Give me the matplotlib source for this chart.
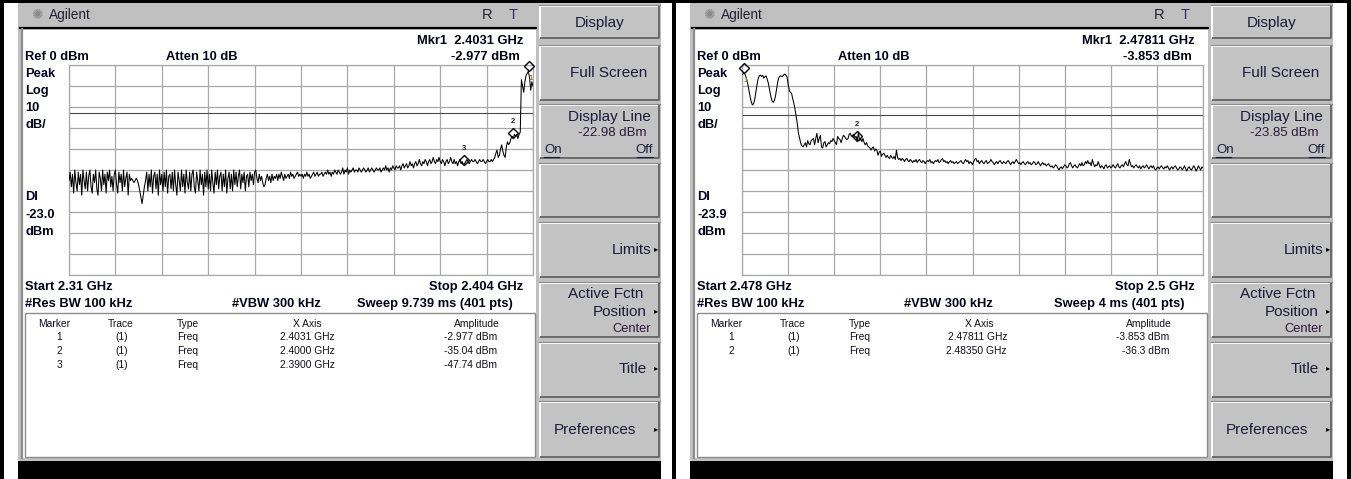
import numpy as np
import matplotlib
matplotlib.use('Agg')
import matplotlib.pyplot as plt
from matplotlib.patches import Rectangle
from matplotlib import transforms

plt.rcParams['font.family'] = ['Liberation Sans', 'DejaVu Sans']

W, H = 1351, 479

# ---------------- data ----------------
left_start_ghz, left_stop_ghz = 2.31, 2.404
right_start_ghz, right_stop_ghz = 2.478, 2.5
ref_level_dbm = 0.0
db_per_div = 10.0
left_display_line_dbm = -22.98
right_display_line_dbm = -23.85

left_trace_dbm = np.array("""
-55 -51 -58 -52 -61 -50 -56 -60 -51 -57 -52 -62 -50 -55 -59 -51 -60 -53 -50 -58
-61 -52 -56 -50 -59 -62 -51 -54 -60 -50 -57 -52 -61 -51 -55 -50 -58 -53 -60 -52
-50 -57 -61 -51 -56 -52 -60 -50 -58 -54 -51 -62 -52 -55 -54 -55 -56 -55 -54 -55
-57 -60 -63 -66 -62 -58 -55 -51 -60 -52 -58 -50 -61 -53 -51 -59 -52 -62 -50 -57
-52 -60 -51 -58 -50 -61 -53 -52 -59 -51 -60 -50 -57 -62 -51 -55 -60 -50 -58 -52
-61 -50 -56 -59 -51 -60 -52 -50 -58 -61 -51 -55 -60 -50 -57 -52 -62 -51 -58 -50
-59 -52 -60 -50 -56 -61 -51 -57 -50 -59 -53 -51 -60 -52 -58 -50 -61 -54 -51 -59
-52 -60 -50 -57 -51 -58 -53 -50 -59 -52 -56 -51 -60 -53 -52 -58 -51 -55 -52 -57
-51 -50 -54 -56 -52 -55 -53 -56 -58 -57 -54 -52 -55 -53 -56 -52 -55 -53 -54 -52
-55 -52 -54 -51 -53 -55 -52 -54 -53 -52 -54 -51 -53 -52 -54 -53 -52 -51 -53 -52
-53 -52 -54 -52 -53 -51 -53 -52 -54 -53 -52 -51 -53 -52 -51 -53 -52 -52 -51 -53
-52 -51 -52 -50 -52 -51 -53 -51 -52 -50 -51 -52 -50 -51 -52
-51 -49 -52 -50 -51 -49 -52 -50 -51 -50 -49 -51 -50 -50 -51 -49 -50 -51 -50 -49
-50 -51 -50 -49 -51 -50 -49 -50 -51 -50 -49 -50 -50 -49 -51 -50 -49 -50 -48 -50
-49 -51 -49 -50 -48 -49 -50 -48 -49
-49 -48 -50 -48 -47 -49 -48 -47 -49 -48 -46 -48 -47 -49 -47 -46 -48 -47 -45 -47
-48 -46 -47 -45 -46 -48 -46 -45 -47 -46 -44 -46 -47 -45 -46 -44 -46
-47 -45 -46 -48 -46 -45 -47 -46 -44 -46 -47 -45 -47 -46 -48 -46 -45 -47 -46 -47.7
-47 -46 -45 -46 -47 -46 -45 -46 -46 -45 -46 -47 -46 -45 -46 -46 -45 -46 -47 -46
-45 -46 -46 -45 -46 -45
-44 -42 -40.5 -44 -43 -40 -38 -41 -43 -44 -39 -36.6 -38 -37 -35 -34 -35.04 -33 -34 -33
-35 -33 -32
-7 -10 -13 -8 -5 -4 -2.977 -6 -12 -8 -10
""".split(), float)

right_trace_dbm = np.array("""
-4.5 -4.2 -3.9 -5 -6.5 -9 -12 -15 -17.5 -19 -18.5 -16.5 -13 -9.5 -6.5 -5.2 -4.8 -5.5 -4.9 -6.3
-5.5 -5.2 -7 -9 -12 -15 -17 -17.8 -17 -15 -11.5 -8 -6 -5.2 -5.3 -5.5 -4.8 -4.3 -4.8 -5.5
-9 -12 -13 -13.5 -16 -18.2 -21 -24.6 -28 -32.5 -35 -37.3 -38.5 -39
-38 -37 -39 -36 -37.5 -38 -36 -35.5 -35 -38 -35 -32.5 -37 -35 -33.5 -39 -39.5 -37 -36.5 -39
-38 -37 -37.5 -36 -36.5 -35 -36 -37 -38 -34 -35 -35.5 -37 -35 -33.5 -34 -35 -35.5 -35 -33
-32.5 -34 -33.5 -33 -34.5 -34 -36.3 -32 -36 -35 -36.5 -35 -37 -38 -37 -38.5 -39 -39.5 -40.5 -39.5
-39 -41 -40 -40.5 -43 -41.5 -41 -43.5 -42.5 -42 -43 -44 -43 -44 -44.5
-43 -44 -44.5 -43.5 -45 -40.5 -44 -45 -44.5 -45.5 -44.5 -45 -46 -45 -44.5 -45.5 -46 -45 -45.5 -46.5
-45.5 -46 -45 -46.5 -45.5 -45 -46 -46.5 -45.5 -46 -47 -46 -45.5 -46 -45 -46.5 -46 -47 -46 -45.5
-46 -45 -46.5 -46 -45 -44.5 -46 -45.5 -46.5 -46 -47 -46 -45.5 -46.5 -46 -47 -46.5 -46 -47 -46.5
-46 -45.5 -46.5 -47 -46 -45 -46 -45.5 -47 -46 -46.5 -47.5 -46 -45 -44.5 -46 -45.5 -47 -46 -45.5
-46.5 -47 -46 -45.5 -47 -46.5 -46 -45 -46 -46.5 -47.5 -46.5 -46 -47 -46 -45.5 -46.5 -47 -46 -46.5
-47 -46 -45.5 -46.5 -47.5 -46.5 -46 -47 -46 -45 -46 -47 -46.5 -47.5 -46.5 -46 -47 -47.5 -46.5 -46
-47 -46.5 -47.5 -47 -46 -46.5 -47.5 -47 -46 -47 -48 -47 -46.5 -47.5 -47 -48 -47.5 -47 -48 -48.5
-48 -49 -48.5 -47.5 -48 -49 -50 -49 -48.5 -49.5 -48.5 -47.5 -48 -49 -48.5 -47 -46.5 -48 -49 -48
-47.5 -48.5 -49 -48 -47 -48 -46.5 -48 -47.5 -46 -47 -45.5 -47 -46.5 -48 -45 -47 -48.5 -47.5 -48
-46 -47.5 -49 -48 -48.5 -49.5 -48 -47.5 -49 -48.5 -48 -49 -48.5 -47.5 -48.5 -49 -48 -47 -48.5 -49
-48 -47.5 -48.5 -47 -46 -47.5 -48 -45 -47 -48.5 -48 -49 -48 -47.5 -48.5 -49 -48 -49.5 -48.5 -48
-49 -48.5 -47.5 -48.5 -49.5 -48.5 -48 -49 -48 -49.5 -50 -49 -48.5 -49.5 -48.5 -48 -49 -49.5 -48.5 -49
-48 -49 -50 -49 -48.5 -49.5 -48.5 -48 -49 -50 -49.5 -48.5 -49 -50 -49 -48 -49.5 -50.5 -49 -48.5
-49.5 -50 -49 -48 -49 -50.5 -49.5 -48 -49 -50 -48.5 -49
""".split(), float)

left_marker_ids = [1, 2, 3]
left_marker_freq_ghz = [2.4031, 2.4000, 2.3900]
left_marker_amp_dbm = [-2.977, -35.04, -47.74]
right_marker_ids = [1, 2]
right_marker_freq_ghz = [2.47811, 2.48350]
right_marker_amp_dbm = [-3.853, -36.3]

table_headers = ["Marker", "Trace", "Type", "X Axis", "Amplitude"]
softkeys = ["Display", "Full Screen", "Display Line", "", "Limits",
            "Active Fctn", "Title", "Preferences"]

# ---------------- styling ----------------
GRAY = '#c0c0c0'
BTN = '#c3c3c3'
GRID = '#a8a8a8'
HDR = '#00001c'
SK = '#1b1b3a'

fig = plt.figure(figsize=(W / 100, H / 100), dpi=100)
bg = fig.add_axes([0, 0, 1, 1])
bg.set_xlim(0, W)
bg.set_ylim(H, 0)
bg.axis('off')


def rect(x0, y0, w, h, **kw):
    bg.add_patch(Rectangle((x0, y0), w, h, **kw))


def T(x, y, s, size=9.3, weight='bold', ha='left', color=HDR, va='center', **kw):
    bg.text(x, y, s, fontsize=size, fontweight=weight, ha=ha, va=va, color=color, **kw)


def button(x0, y0, x1, y1):
    rect(x0, y0, x1 - x0, y1 - y0, fc=BTN, ec='none')
    bg.plot([x0 + 1, x0 + 1, x1 - 1], [y1 - 1, y0 + 1, y0 + 1], color='white', lw=1.4,
            solid_capstyle='butt')
    bg.plot([x0 + 1, x1 - 1, x1 - 1], [y1 - 1, y1 - 1, y0 + 1], color='#6a6a6a', lw=1.4,
            solid_capstyle='butt')
    bg.plot([x0, x1], [y0, y0], color='#8a8a8a', lw=0.8)


# outer frame
rect(0, 0, W, 3, fc='black', ec='none')
for xb in (0, 672, 1347):
    rect(xb, 0, 3.5, H, fc='black', ec='none')


def draw_panel(dx, grid_x0, grid_x1, f0, f1, trace, dl, dl_side, mids, mfreq, mamp,
               start_txt, stop_txt, sweep_txt, fdec):
    # screen chrome
    rect(18 + dx, 3, 643, 458, fc=GRAY, ec='none')
    rect(23 + dx, 30, 513, 428, fc='white', ec='none')
    bg.plot([20 + dx, 536 + dx], [28, 28], color='black', lw=1.6)
    bg.plot([21.5 + dx, 21.5 + dx], [29, 458], color='#8c8c8c', lw=1.6)
    rect(25 + dx, 313, 510, 144, fc='white', ec='#8c8c8c', lw=1.0)
    rect(18 + dx, 461, 643, 18, fc='black', ec='none')

    # title bar
    bg.text(37 + dx, 15, '\u273a', fontsize=10, color='#8a8a8a', ha='center', va='center',
            family='DejaVu Sans')
    T(49 + dx, 15, 'Agilent', size=9.8, weight='normal', color='#202030')
    T(487 + dx, 15, 'R', size=10.5, weight='normal', ha='center', color='#202030')
    T(513 + dx, 15, 'T', size=10.5, weight='normal', ha='center', color='#3a2a6a')

    # softkeys
    ys = [(5, 39), (45, 101), (104, 159), (163, 218), (222, 278), (282, 338),
          (342, 398), (401, 458)]
    for (y0, y1) in ys:
        button(539 + dx, y0, 660 + dx, y1)
    T(600 + dx, 23, softkeys[0], size=11, weight='normal', ha='center', color=SK)
    T(647 + dx, 73, softkeys[1], size=11, weight='normal', ha='right', color=SK)
    T(651 + dx, 117, softkeys[2], size=11, weight='normal', ha='right', color=SK)
    T(647 + dx, 133, f"{dl:.2f} dBm", size=9.5, weight='normal', ha='right', color='#2a1a3a')
    T(544 + dx, 150, 'On', size=9.5, weight='normal', ha='left', color=SK)
    T(653 + dx, 150, 'Off', size=9.5, weight='normal', ha='right', color=SK)
    bg.plot([544 + dx, 559 + dx], [156.5, 156.5], color=SK, lw=0.8)
    bg.plot([637 + dx, 653 + dx], [156.5, 156.5], color=SK, lw=0.8)
    T(651 + dx, 250, softkeys[4], size=11, weight='normal', ha='right', color=SK)
    T(643 + dx, 294, softkeys[5], size=11, weight='normal', ha='right', color=SK)
    T(647 + dx, 312, 'Position', size=11, weight='normal', ha='right', color=SK)
    T(651 + dx, 329, 'Center', size=9.3, weight='normal', ha='right', color='#2a1a3a')
    T(647 + dx, 369, softkeys[6], size=11, weight='normal', ha='right', color=SK)
    T(636 + dx, 430, softkeys[7], size=11, weight='normal', ha='right', color=SK)
    for ty in (250, 312, 369, 430):
        bg.text(656 + dx, ty - 1, '\u25b8', fontsize=6, color='black', ha='center',
                va='center', family='DejaVu Sans')

    # annotations around graticule
    T(25 + dx, 57, f"Ref {ref_level_dbm:.0f} dBm")
    T(166 + dx, 57, 'Atten 10 dB')
    T(523 + dx, 41, f"Mkr1  {mfreq[0]:.{fdec}f} GHz", ha='right')
    T(520 + dx, 57, f"{mamp[0]:.4g} dBm", ha='right')
    for lab, yy in (('Peak', 74), ('Log', 91), (f"{db_per_div:.0f}", 108), ('dB/', 125),
                    ('DI', 197), (dl_side, 215), ('dBm', 232)):
        T(25 + dx, yy, lab)
    T(25 + dx, 287, start_txt)
    T(523 + dx, 287, stop_txt, ha='right')
    T(25 + dx, 304, '#Res BW 100 kHz')
    T(232 + dx, 304, '#VBW 300 kHz')
    T(513 + dx, 304, sweep_txt, ha='right')

    # marker table
    tcol = '#10101a'
    T(54 + dx, 324, table_headers[0], size=7.4, weight='normal', ha='center', color=tcol)
    T(121 + dx, 324, table_headers[1], size=7.4, weight='normal', ha='center', color=tcol)
    T(177 + dx, 324, table_headers[2], size=7.4, weight='normal', ha='left', color=tcol)
    T(307 + dx, 324, table_headers[3], size=7.4, weight='normal', ha='center', color=tcol)
    T(477 + dx, 324, table_headers[4], size=7.4, weight='normal', ha='center', color=tcol)
    for k, (mid, mf, ma) in enumerate(zip(mids, mfreq, mamp)):
        yy = 337.5 + 13.5 * k
        T(59 + dx, yy, str(mid), size=7.4, weight='normal', ha='center', color=tcol)
        T(122 + dx, yy, '(1)', size=7.4, weight='normal', ha='center', color=tcol)
        T(177 + dx, yy, 'Freq', size=7.4, weight='normal', ha='left', color=tcol)
        T(335 + dx, yy, f"{mf:.{fdec}f} GHz", size=7.4, weight='normal', ha='right', color=tcol)
        T(497 + dx, yy, f"{ma:.4g} dBm", size=7.4, weight='normal', ha='right', color=tcol)

    # graticule + trace
    gy0, gy1 = 65, 275
    ax = fig.add_axes([grid_x0 / W, 1 - gy1 / H, (grid_x1 - grid_x0) / W, (gy1 - gy0) / H])
    ax.set_facecolor('white')
    ax.set_xlim(f0, f1)
    ax.set_ylim(ref_level_dbm - 10 * db_per_div, ref_level_dbm)
    ax.set_xticks(np.linspace(f0, f1, 11))
    ax.set_yticks(np.linspace(ref_level_dbm - 10 * db_per_div, ref_level_dbm, 11))
    ax.tick_params(length=0, labelbottom=False, labelleft=False)
    ax.grid(True, color=GRID, lw=0.9)
    ax.set_axisbelow(True)
    for sp in ax.spines.values():
        sp.set_color(GRID)
        sp.set_linewidth(0.9)
    freq = np.linspace(f0, f1, len(trace))
    ax.axhline(dl, color='#4a4a4a', lw=0.8, zorder=2)
    ax.plot(freq, trace, color='black', lw=0.75, zorder=3)
    off = transforms.offset_copy(ax.transData, fig=fig, x=0, y=3.8, units='points')
    ax.plot(mfreq, mamp, 'D', ms=5.5, mfc='none', mec='black', mew=1.0,
            transform=off, clip_on=False, zorder=4)
    for mid, mf, ma in zip(mids, mfreq, mamp):
        if mid == 1:
            tr = transforms.offset_copy(ax.transData, fig=fig, x=1.2, y=-5.5, units='points')
            col = '#8c7f1c'
        else:
            tr = transforms.offset_copy(ax.transData, fig=fig, x=0, y=12, units='points')
            col = '#1a1a50'
        ax.text(mf, ma, str(mid), transform=tr, fontsize=5.5, fontweight='bold',
                ha='center', va='center', color=col, clip_on=False, zorder=5)
    return ax


draw_panel(0, 69, 533, left_start_ghz, left_stop_ghz, left_trace_dbm,
           left_display_line_dbm, '-23.0', left_marker_ids, left_marker_freq_ghz,
           left_marker_amp_dbm, 'Start 2.31 GHz', 'Stop 2.404 GHz',
           'Sweep 9.739 ms (401 pts)', 4)
draw_panel(672, 742, 1203, right_start_ghz, right_stop_ghz, right_trace_dbm,
           right_display_line_dbm, '-23.9', right_marker_ids, right_marker_freq_ghz,
           right_marker_amp_dbm, 'Start 2.478 GHz', 'Stop 2.5 GHz',
           'Sweep 4 ms (401 pts)', 5)

fig.savefig('out.png', dpi=100)
